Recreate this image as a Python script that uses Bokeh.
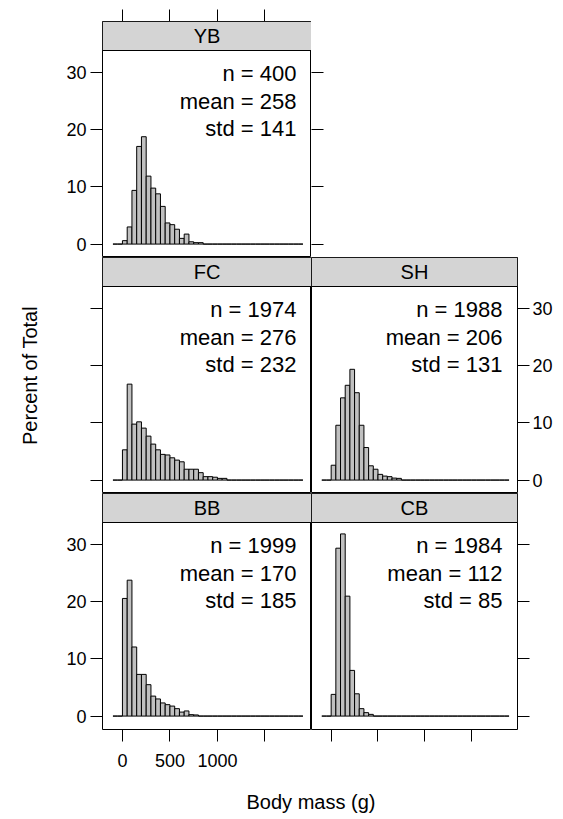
import numpy as np
from bokeh.plotting import figure
from bokeh.models import Range1d, LinearAxis, FixedTicker, BoxAnnotation, Label
from bokeh.layouts import gridplot, column
from bokeh.embed import file_html
from bokeh.resources import INLINE

# ---------------- data ----------------
bin_start = -100          # first histogram break (g)
bin_width = 50            # width of each bin (g)
n_bins = 40

groups = ["YB", "FC", "SH", "BB", "CB"]
n_obs = [400, 1974, 1988, 1999, 1984]
mean_mass = [258, 276, 206, 170, 112]
std_mass = [141, 232, 131, 185, 85]

# percent of total per bin, starting with the first bin at/after 0 g
pct_YB = [0.6, 3.0, 9.4, 17.1, 18.8, 11.9, 9.8, 8.8, 6.6, 3.7, 3.4, 2.6, 1.0, 1.75, 0.4, 0.25, 0.25]
pct_FC = [5.3, 16.8, 9.8, 10.2, 9.1, 7.7, 6.3, 5.3, 4.5, 4.4, 3.9, 3.5, 3.2, 1.9, 1.9, 1.9, 1.3,
          0.6, 0.6, 0.5, 0.3, 0.3]
pct_SH = [2.6, 9.6, 14.4, 16.6, 19.4, 15.3, 9.6, 5.7, 2.5, 1.9, 1.0, 0.7, 0.6, 0.35, 0.3]
pct_BB = [20.6, 23.8, 12.1, 7.3, 7.3, 5.5, 3.5, 3.0, 2.3, 2.0, 1.75, 1.3, 0.7, 0.9, 0.25, 0.2]
pct_CB = [3.8, 29.4, 31.9, 21.0, 8.0, 3.9, 1.3, 0.6, 0.3]

x_ticks = [0, 500, 1000, 1500]
x_tick_labels = ["0", "500", "1000", ""]
y_ticks = [0, 10, 20, 30]
y_tick_labels = ["0", "10", "20", "30"]

x_label = "Body mass (g)"
y_label = "Percent of Total"

# ---------------- style / layout ----------------
FONT = "Liberation Sans"
BAR_FILL = "#c0c0c0"
STRIP_FILL = "#d4d4d4"
X_LO, X_HI = -210, 1990
Y_LO, Y_PANEL_HI = -2.35, 33.9
PANEL_PX, STRIP_PX = 207, 29
Y_HI = Y_PANEL_HI + STRIP_PX * (Y_PANEL_HI - Y_LO) / PANEL_PX
FRAME_W0, FRAME_W1 = 209, 208
FRAME_H = PANEL_PX + STRIP_PX
LEFT_B, RIGHT_B, TOP_B, BOTTOM_B = 102, 36, 21, 50
TICK = 12

edges = bin_start + bin_width * np.arange(n_bins + 1)
zero_bin = int((0 - bin_start) // bin_width)


def full_hist(pct):
    h = np.zeros(n_bins)
    h[zero_bin:zero_bin + len(pct)] = pct
    return h


def add_axis(p, side, ticks, labels=None, tick_in=0, tick_out=TICK, standoff=4,
             axis_label=None, label_standoff=0):
    ax = LinearAxis(ticker=FixedTicker(ticks=ticks, minor_ticks=[]),
                    axis_line_color=None,
                    major_tick_in=tick_in, major_tick_out=tick_out,
                    major_tick_line_color="black", major_tick_line_width=1,
                    minor_tick_line_color=None,
                    major_label_text_font=FONT, major_label_text_color="black")
    if labels is not None:
        ax.major_label_overrides = {t: l for t, l in zip(ticks, labels)}
        ax.major_label_text_font_size = "18px"
        ax.major_label_standoff = standoff
    else:
        ax.major_label_overrides = {t: "" for t in ticks}
        ax.major_label_text_font_size = "0px"
        ax.major_label_standoff = 0
    if axis_label:
        ax.axis_label = axis_label
        ax.axis_label_text_font = FONT
        ax.axis_label_text_font_size = "20px"
        ax.axis_label_text_font_style = "normal"
        ax.axis_label_text_color = "black"
        ax.axis_label_standoff = label_standoff
    p.add_layout(ax, side)
    return ax


def base_fig(col, row, x_range, y_range):
    bl = LEFT_B if col == 0 else 0
    br = 0 if col == 0 else RIGHT_B
    bt = TOP_B if row == 0 else 0
    bb = BOTTOM_B if row == 2 else 0
    fw = FRAME_W0 if col == 0 else FRAME_W1
    p = figure(width=bl + fw + br, height=bt + FRAME_H + bb,
               x_range=x_range, y_range=y_range,
               x_axis_location=None, y_axis_location=None,
               output_backend="svg", toolbar_location=None,
               min_border_left=bl, min_border_right=br,
               min_border_top=bt, min_border_bottom=bb)
    p.xgrid.visible = False
    p.ygrid.visible = False
    p.background_fill_color = "white"
    p.border_fill_color = "white"
    return p


def panel(idx, pct, col, row):
    xr = Range1d(X_LO, X_HI)
    yr = Range1d(Y_LO, Y_HI)
    p = base_fig(col, row, xr, yr)
    p.outline_line_color = "black"
    p.outline_line_width = 1
    h = full_hist(pct)
    p.quad(left=edges[:-1], right=edges[1:], bottom=0, top=h,
           fill_color=BAR_FILL, line_color="black", line_width=1)
    # strip
    p.add_layout(BoxAnnotation(bottom=Y_PANEL_HI, fill_color=STRIP_FILL, fill_alpha=1,
                               line_color="black", line_width=1, line_alpha=1))
    p.add_layout(Label(x=(X_LO + X_HI) / 2, y=Y_PANEL_HI, y_offset=STRIP_PX / 2,
                       text=groups[idx], text_align="center", text_baseline="middle",
                       text_font=FONT, text_font_size="20px", text_color="black"))
    lines = [f"n = {n_obs[idx]}", f"mean = {mean_mass[idx]}", f"std = {std_mass[idx]}"]
    for t, off in zip(lines, [23, 51, 78]):
        p.add_layout(Label(x=X_HI, y=Y_PANEL_HI, x_offset=-15, y_offset=-off,
                           text=t, text_align="right", text_baseline="alphabetic",
                           text_font=FONT, text_font_size="22px", text_color="black"))
    return p


# YB (top left)
yb = panel(0, pct_YB, 0, 0)
add_axis(yb, "left", y_ticks, y_tick_labels)
add_axis(yb, "above", x_ticks)

# empty top-right cell: carries YB's right-side ticks
empty = base_fig(1, 0, Range1d(0, 1), yb.y_range)
empty.outline_line_color = None
add_axis(empty, "left", y_ticks, tick_in=TICK, tick_out=0)

# FC (middle left)
fc = panel(1, pct_FC, 0, 1)
add_axis(fc, "left", y_ticks, axis_label=y_label, label_standoff=50)

# SH (middle right)
sh = panel(2, pct_SH, 1, 1)
add_axis(sh, "right", y_ticks, y_tick_labels, standoff=3)

# BB (bottom left)
bb = panel(3, pct_BB, 0, 2)
add_axis(bb, "left", y_ticks, y_tick_labels)
add_axis(bb, "below", x_ticks, x_tick_labels, standoff=12)

# CB (bottom right)
cb = panel(4, pct_CB, 1, 2)
add_axis(cb, "right", y_ticks)
add_axis(cb, "below", x_ticks)

grid = gridplot([[yb, empty], [fc, sh], [bb, cb]], toolbar_location=None)

# x label strip
xf = figure(width=LEFT_B + FRAME_W0 + FRAME_W1 + RIGHT_B, height=36,
            x_range=Range1d(0, 1), y_range=Range1d(0, 1),
            x_axis_location=None, y_axis_location=None,
            output_backend="svg", toolbar_location=None,
            min_border_left=LEFT_B, min_border_right=RIGHT_B,
            min_border_top=0, min_border_bottom=35)
xf.outline_line_color = None
xf.xgrid.visible = False
xf.ygrid.visible = False
add_axis(xf, "below", [], tick_out=0, axis_label=x_label, label_standoff=10)

layout = column(grid, xf)
open("out.html", "w").write(file_html(layout, INLINE))
